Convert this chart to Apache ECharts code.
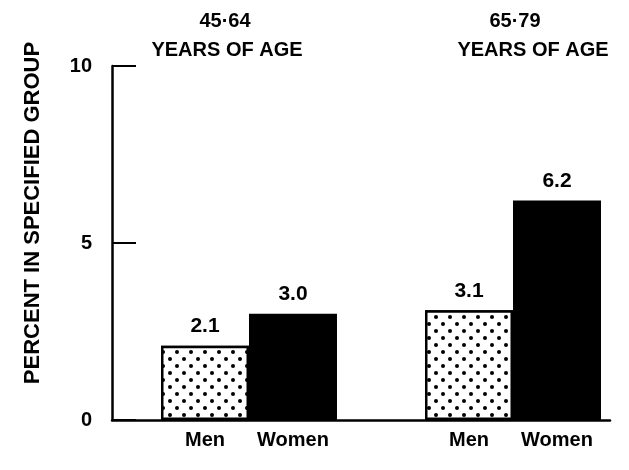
<!DOCTYPE html>
<html>
<head>
    <meta charset="utf-8">
    <title>Percent in specified group</title>
    <style>
        html, body { margin: 0; padding: 0; background: #fff; }
        #chart { width: 629px; height: 470px; }
    </style>
</head>
<body>
    <div id="chart"></div>
    <script src="https://cdn.jsdelivr.net/npm/echarts@6/dist/echarts.min.js"></script>
    <script>
        // data
        var groups = ['45·64', '65·79'];
        var groupSubtitle = 'YEARS OF AGE';
        var sexes = ['Men', 'Women'];
        var menValues = [2.1, 3.1];
        var womenValues = [3.0, 6.2];
        var yTicks = [0, 5, 10];

        var font = 'Liberation Sans';
        var boldText = { fontFamily: font, fontWeight: 'bold', color: '#000' };

        // one category per bar, with an empty slot between the age groups
        var categories = [];
        var barData = [];
        groups.forEach(function (g, i) {
            if (i > 0) {
                categories.push('');
                barData.push('-');
            }
            categories.push(sexes[0]);
            barData.push({
                value: menValues[i],
                itemStyle: {
                    color: '#fff',
                    borderColor: '#000',
                    borderWidth: 2.5,
                    decal: {
                        symbol: 'circle',
                        symbolSize: 1,
                        color: '#000',
                        backgroundColor: '#fff',
                        dashArrayX: [[4, 10], [0, 7, 4, 3]],
                        dashArrayY: [4, 3],
                        rotation: 0
                    }
                }
            });
            categories.push(sexes[1]);
            barData.push({
                value: womenValues[i],
                itemStyle: { color: '#000', borderColor: '#000', borderWidth: 2 }
            });
        });

        // group headings: age range on top, "YEARS OF AGE" below
        var headCenters = [[220, 222], [510, 528]];
        var titles = [];
        groups.forEach(function (g, i) {
            titles.push({
                text: g, left: headCenters[i][0], top: 6, textAlign: 'center',
                textStyle: Object.assign({ fontSize: 20 }, boldText)
            });
            titles.push({
                text: groupSubtitle, left: headCenters[i][1], top: 35, textAlign: 'center',
                textStyle: Object.assign({ fontSize: 20 }, boldText)
            });
        });

        var chart = echarts.init(document.getElementById('chart'));

        var option = {
            backgroundColor: '#fff',
            animation: false,
            textStyle: { fontFamily: font, color: '#000' },
            title: titles,
            grid: [
                { left: 161, right: 28, top: 66, bottom: 50 },
                { left: 112, right: 19, top: 66, bottom: 50 }
            ],
            xAxis: [
                {
                    type: 'category',
                    gridIndex: 0,
                    data: categories,
                    axisLine: { show: false },
                    axisTick: { show: false },
                    axisLabel: Object.assign({ fontSize: 20, margin: 10, interval: 0 }, boldText)
                },
                {
                    type: 'value',
                    gridIndex: 1,
                    min: 0,
                    max: 1,
                    axisLine: { show: true, lineStyle: { color: '#000', width: 2.5 } },
                    axisTick: { show: false },
                    axisLabel: { show: false },
                    splitLine: { show: false }
                }
            ],
            yAxis: [
                {
                    type: 'value',
                    gridIndex: 0,
                    min: yTicks[0],
                    max: yTicks[yTicks.length - 1],
                    interval: 5,
                    offset: 49,
                    name: 'PERCENT IN SPECIFIED GROUP',
                    nameLocation: 'middle',
                    nameGap: 68,
                    nameRotate: 90,
                    nameTextStyle: Object.assign({ fontSize: 22, padding: [0, 0, 0, 60] }, boldText),
                    axisLine: { show: true, lineStyle: { color: '#000', width: 2.5 } },
                    axisTick: {
                        show: true,
                        inside: true,
                        length: 24,
                        lineStyle: { color: '#000', width: 2 }
                    },
                    axisLabel: Object.assign({ fontSize: 20, margin: 20 }, boldText),
                    splitLine: { show: false }
                },
                {
                    type: 'value',
                    gridIndex: 1,
                    show: false
                }
            ],
            series: [
                {
                    type: 'bar',
                    xAxisIndex: 0,
                    yAxisIndex: 0,
                    data: barData,
                    barWidth: '100%',
                    barCategoryGap: 0,
                    label: Object.assign({
                        show: true,
                        position: 'top',
                        distance: 9,
                        fontSize: 21,
                        formatter: function (p) { return p.value.toFixed(1); }
                    }, boldText)
                }
            ]
        };

        chart.setOption(option);
    </script>
</body>
</html>
